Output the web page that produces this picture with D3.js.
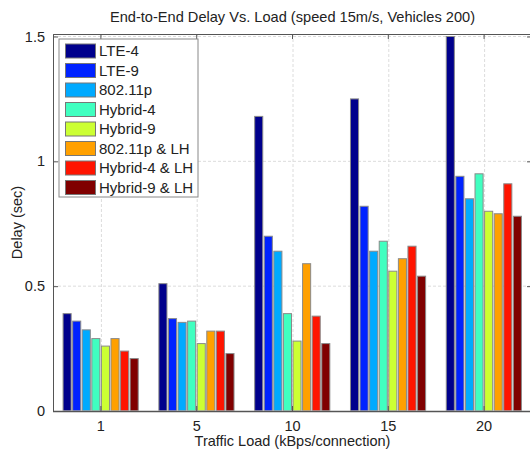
<!DOCTYPE html>
<html>
<head>
<meta charset="utf-8">
<script src="https://cdn.jsdelivr.net/npm/d3@7"></script>
<style>
body { margin: 0; background: #fff; }
text { font-family: "Liberation Sans", Arial, sans-serif; fill: #222; }
</style>
</head>
<body>
<script>

// chart data
var loads = ["1", "5", "10", "15", "20"];
var seriesNames = ["LTE-4", "LTE-9", "802.11p", "Hybrid-4", "Hybrid-9", "802.11p & LH", "Hybrid-4 & LH", "Hybrid-9 & LH"];
var lte4 = [0.39, 0.51, 1.18, 1.25, 1.50];
var lte9 = [0.36, 0.37, 0.70, 0.82, 0.94];
var p80211 = [0.325, 0.355, 0.64, 0.64, 0.85];
var hybrid4 = [0.29, 0.36, 0.39, 0.68, 0.95];
var hybrid9 = [0.26, 0.27, 0.28, 0.56, 0.80];
var p80211LH = [0.29, 0.32, 0.59, 0.61, 0.79];
var hybrid4LH = [0.24, 0.32, 0.38, 0.66, 0.91];
var hybrid9LH = [0.21, 0.23, 0.27, 0.54, 0.78];
var yTicks = [0, 0.5, 1, 1.5];

var colors = ["#00008c", "#0022ff", "#00aaff", "#40ffc0", "#ccff33", "#ffa000", "#ff1400", "#800000"];

var values = [lte4, lte9, p80211, hybrid4, hybrid9, p80211LH, hybrid4LH, hybrid9LH];

// canvas
var margin = {top: 34, right: 0, bottom: 44, left: 53},
	width = 479,
	height = 455 - margin.top - margin.bottom;

var svg = d3.select("body").append("svg")
	.attr("width", 530)
	.attr("height", 455);

var g = svg.append("g")
	.attr("transform", "translate(" + margin.left + "," + margin.top + ")");

var x = d3.scaleBand().domain(loads).range([0, width]).paddingInner(0).paddingOuter(0);
var x1 = d3.scaleBand().domain(d3.range(seriesNames.length)).range([x.bandwidth() * 0.1, x.bandwidth() * 0.9]);
var y = d3.scaleLinear().domain([0, 1.51]).range([height, 0]);

// grid
g.selectAll(".ygrid")
	.data(yTicks.slice(1))
	.enter().append("line")
	.attr("x1", 0).attr("x2", width)
	.attr("y1", function(d) { return y(d); })
	.attr("y2", function(d) { return y(d); })
	.attr("stroke", "#dcdcdc")
	.attr("stroke-dasharray", "3,2");

g.selectAll(".xgrid")
	.data(loads)
	.enter().append("line")
	.attr("x1", function(d) { return x(d) + x.bandwidth() / 2 + 0.5; })
	.attr("x2", function(d) { return x(d) + x.bandwidth() / 2 + 0.5; })
	.attr("y1", 0).attr("y2", height)
	.attr("stroke", "#dcdcdc")
	.attr("stroke-dasharray", "3,2");

// bars
var groups = g.selectAll(".series")
	.data(values)
	.enter().append("g")
	.attr("class", "series")
	.attr("fill", function(d, i) { return colors[i]; });

groups.each(function(series, si) {
	d3.select(this).selectAll("rect")
		.data(series)
		.enter().append("rect")
		.attr("x", function(d, i) { return x(loads[i]) + x1(si) + 0.5; })
		.attr("width", x1.bandwidth() - 1.5)
		.attr("y", function(d) { return y(d); })
		.attr("height", function(d) { return y(0) - y(d); })
		.attr("stroke", "#8a8a8a")
		.attr("stroke-width", 1);
});

// baseline
g.append("line")
	.attr("x1", 0).attr("x2", width)
	.attr("y1", y(0) + 0.5).attr("y2", y(0) + 0.5)
	.attr("stroke", "#aaa")
	.attr("stroke-width", 2);

// axes
var yAxis = d3.axisLeft(y).tickValues(yTicks).tickSize(-5).tickPadding(8).tickFormat(d3.format("~g"));
var yAxisR = d3.axisRight(y).tickValues(yTicks).tickSize(-5).tickFormat("");
var xAxis = d3.axisBottom(x).tickSize(-5).tickPadding(10);
var xAxisT = d3.axisTop(x).tickSize(-5).tickFormat("");

g.append("g").call(yAxis);
g.append("g").attr("transform", "translate(" + width + ",0)").call(yAxisR);
g.append("g").attr("transform", "translate(0," + height + ")").call(xAxis);
g.append("g").call(xAxisT);

g.selectAll(".domain").attr("stroke", "#555");
g.selectAll(".tick line").attr("stroke", "#555");
g.selectAll(".tick text")
	.style("font-size", "14.5px")
	.style("font-family", "'Liberation Sans', Arial, sans-serif")
	.attr("fill", "#222");

// labels
svg.append("text")
	.attr("x", margin.left + width / 2)
	.attr("y", 22)
	.attr("text-anchor", "middle")
	.style("font-size", "14.6px")
	.text("End-to-End Delay Vs. Load (speed 15m/s, Vehicles 200)");

svg.append("text")
	.attr("x", margin.left + width / 2)
	.attr("y", 446)
	.attr("text-anchor", "middle")
	.style("font-size", "14.5px")
	.text("Traffic Load (kBps/connection)");

svg.append("text")
	.attr("transform", "translate(22," + (margin.top + height / 2) + ") rotate(-90)")
	.attr("text-anchor", "middle")
	.style("font-size", "14.5px")
	.text("Delay (sec)");

// legend
var legend = svg.append("g")
	.attr("transform", "translate(59,39)");

legend.append("rect")
	.attr("width", 139)
	.attr("height", 158)
	.attr("fill", "#fff")
	.attr("stroke", "#888");

var item = legend.selectAll(".item")
	.data(seriesNames)
	.enter().append("g")
	.attr("class", "item")
	.attr("transform", function(d, i) { return "translate(0," + (12 + i * 19.5) + ")"; });

item.append("rect")
	.attr("x", 6.5).attr("y", -7)
	.attr("width", 30).attr("height", 14)
	.attr("fill", function(d, i) { return colors[i]; })
	.attr("stroke", "#777");

item.append("text")
	.attr("x", 40)
	.attr("dy", "0.36em")
	.style("font-size", "15px")
	.text(function(d) { return d; });

</script>
</body>
</html>
